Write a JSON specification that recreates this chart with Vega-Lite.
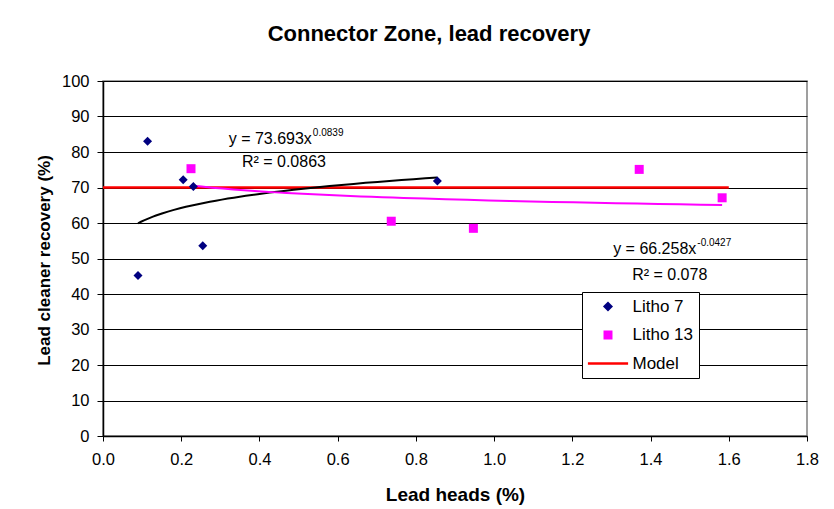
{
  "$schema": "https://vega.github.io/schema/vega-lite/v6.json",
  "width": 704,
  "height": 355,
  "autosize": {"type": "none"},
  "padding": {"left": 103, "top": 81, "right": 27, "bottom": 73},
  "background": "white",
  "title": {
    "text": "Connector Zone, lead recovery",
    "font": "Liberation Sans",
    "fontSize": 22,
    "fontWeight": "bold",
    "color": "black",
    "anchor": "middle",
    "frame": "group",
    "dx": -26,
    "baseline": "alphabetic",
    "offset": 10
  },
  "config": {
    "font": "Liberation Sans",
    "view": {"stroke": "#808080", "strokeWidth": 1.5}
  },
  "datasets": {
    "points": [
      {"x": 0.114, "y": 83.0, "series": "Litho 7"},
      {"x": 0.205, "y": 72.2, "series": "Litho 7"},
      {"x": 0.231, "y": 70.3, "series": "Litho 7"},
      {"x": 0.255, "y": 53.6, "series": "Litho 7"},
      {"x": 0.0895, "y": 45.2, "series": "Litho 7"},
      {"x": 0.855, "y": 71.8, "series": "Litho 7"},
      {"x": 0.225, "y": 75.3, "series": "Litho 13"},
      {"x": 0.737, "y": 60.5, "series": "Litho 13"},
      {"x": 0.947, "y": 58.5, "series": "Litho 13"},
      {"x": 1.371, "y": 75.1, "series": "Litho 13"},
      {"x": 1.583, "y": 67.1, "series": "Litho 13"}
    ],
    "model": [
      {"x": 0, "y": 70, "series": "Model"},
      {"x": 1.6, "y": 70, "series": "Model"}
    ],
    "eqs": [
      {"x": 0.534, "y": 83.6, "text": "y = 73.693x"},
      {"x": 1.517, "y": 52.8, "text": "y = 66.258x"}
    ],
    "sups": [
      {"x": 0.534, "y": 85.4, "text": "0.0839"},
      {"x": 1.517, "y": 54.3, "text": "-0.0427"}
    ],
    "r2": [
      {"x": 0.4626, "y": 77.1, "text": "R² = 0.0863"},
      {"x": 1.449, "y": 45.4, "text": "R² = 0.078"}
    ]
  },
  "encoding": {
    "x": {
      "field": "x",
      "type": "quantitative",
      "scale": {"domain": [0, 1.8], "nice": false, "zero": false},
      "axis": {
        "values": [0, 0.2, 0.4, 0.6, 0.8, 1.0, 1.2, 1.4, 1.6, 1.8],
        "format": ".1f",
        "grid": false,
        "labelFlush": false,
        "domainColor": "black",
        "domainWidth": 1.5,
        "tickColor": "black",
        "tickSize": 5,
        "labelFont": "Liberation Sans",
        "labelFontSize": 16.5,
        "labelColor": "black",
        "labelPadding": 10,
        "title": "Lead heads (%)",
        "titleFont": "Liberation Sans",
        "titleFontSize": 19,
        "titleFontWeight": "bold",
        "titleColor": "black",
        "titleX": 352,
        "titleY": 58.5,
        "titleBaseline": "middle"
      }
    },
    "y": {
      "field": "y",
      "type": "quantitative",
      "scale": {"domain": [0, 100], "nice": false},
      "axis": {
        "values": [0, 10, 20, 30, 40, 50, 60, 70, 80, 90, 100],
        "grid": true,
        "gridColor": "black",
        "gridWidth": 1,
        "labelFlush": false,
        "domainColor": "black",
        "domainWidth": 1.5,
        "tickColor": "black",
        "tickSize": 6,
        "labelFont": "Liberation Sans",
        "labelFontSize": 16.5,
        "labelColor": "black",
        "labelPadding": 8,
        "title": "Lead cleaner recovery (%)",
        "titleFont": "Liberation Sans",
        "titleFontSize": 17,
        "titleFontWeight": "bold",
        "titleColor": "black",
        "titleX": -59,
        "titleY": 179,
        "titleBaseline": "middle",
        "titleAngle": -90
      }
    }
  },
  "layer": [
    {
      "data": {"name": "model"},
      "mark": {"type": "line", "strokeWidth": 2.5},
      "encoding": {
        "color": {
          "field": "series",
          "type": "nominal",
          "scale": {"domain": ["Litho 7", "Litho 13", "Model"], "range": ["#000080", "#FF00FF", "#FF0000"]}
        }
      }
    },
    {
      "data": {"name": "points"},
      "transform": [
        {"filter": "datum.series === 'Litho 7'"},
        {"regression": "y", "on": "x", "method": "pow"}
      ],
      "mark": {"type": "line", "color": "black", "strokeWidth": 2},
      "encoding": {}
    },
    {
      "data": {"name": "points"},
      "transform": [
        {"filter": "datum.series === 'Litho 13'"},
        {"regression": "y", "on": "x", "method": "pow"}
      ],
      "mark": {"type": "line", "color": "#FF00FF", "strokeWidth": 2},
      "encoding": {}
    },
    {
      "data": {"name": "points"},
      "mark": {"type": "point", "filled": true, "opacity": 1, "size": 81},
      "encoding": {
        "color": {
          "field": "series",
          "type": "nominal",
          "scale": {"domain": ["Litho 7", "Litho 13", "Model"], "range": ["#000080", "#FF00FF", "#FF0000"]},
          "legend": {
            "title": null,
            "orient": "none",
            "legendX": 479,
            "legendY": 211,
            "padding": 6,
            "fillColor": "white",
            "strokeColor": "black",
            "cornerRadius": 0,
            "labelFont": "Liberation Sans",
            "labelFontSize": 17,
            "labelColor": "black",
            "labelOffset": 16,
            "symbolOffset": 11.5,
            "symbolSize": 42,
            "symbolStrokeWidth": 2.5,
            "rowPadding": 10.5,
            "encode": {
              "symbols": {
                "update": {
                  "fill": {"scale": "color", "field": "value"},
                  "stroke": {"scale": "color", "field": "value"},
                  "opacity": {"value": 1}
                }
              }
            }
          }
        },
        "shape": {
          "field": "series",
          "type": "nominal",
          "scale": {"domain": ["Litho 7", "Litho 13", "Model"], "range": ["diamond", "square", "M-6.2,0L6.2,0"]}
        }
      }
    },
    {
      "data": {"name": "eqs"},
      "mark": {"type": "text", "align": "right", "baseline": "middle", "font": "Liberation Sans", "fontSize": 16, "color": "black"},
      "encoding": {"text": {"field": "text"}}
    },
    {
      "data": {"name": "sups"},
      "mark": {"type": "text", "align": "left", "baseline": "middle", "font": "Liberation Sans", "fontSize": 10, "color": "black", "dx": 1},
      "encoding": {"text": {"field": "text"}}
    },
    {
      "data": {"name": "r2"},
      "mark": {"type": "text", "align": "center", "baseline": "middle", "font": "Liberation Sans", "fontSize": 16, "color": "black"},
      "encoding": {"text": {"field": "text"}}
    }
  ]
}
